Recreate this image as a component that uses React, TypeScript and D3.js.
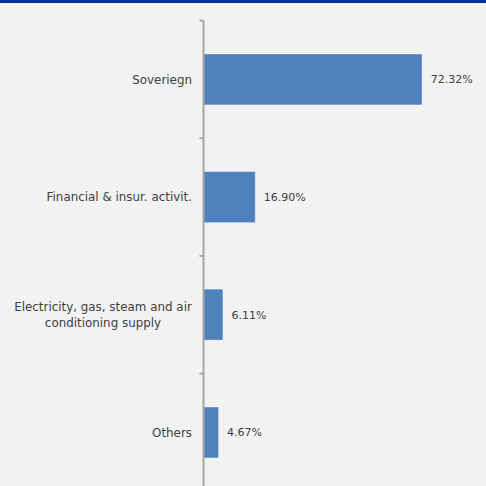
import React from "react";
import * as d3 from "d3";

const categories: string[][] = [
  ["Soveriegn"],
  ["Financial & insur. activit."],
  ["Electricity, gas, steam and air", "conditioning supply"],
  ["Others"],
];
const values: number[] = [72.32, 16.9, 6.11, 4.67];
const valueLabels: string[] = ["72.32%", "16.90%", "6.11%", "4.67%"];

const W = 486;
const H = 486;
const FONT = "'DejaVu Sans', sans-serif";

export default function App() {
  const keys = categories.map((c) => c.join(" "));
  const x = d3.scaleLinear().domain([0, 80]).range([204, 444.8]);
  const y = d3
    .scaleBand<string>()
    .domain(keys)
    .range([20.5, 491.3])
    .paddingInner(0.575)
    .paddingOuter(0.2875);
  const step = y.step();
  const tickYs = d3.range(keys.length + 1).map((i) => 20.5 + i * step);

  return (
    <svg
      width={W}
      height={H}
      style={{ position: "absolute", left: 0, top: 0, display: "block" }}
      fontFamily={FONT}
    >
      <rect x={0} y={0} width={W} height={H} fill="#f2f2f2" />
      <rect x={0} y={0} width={W} height={3} fill="#003399" />
      {values.map((v, i) => (
        <rect
          key={i}
          x={x(0)}
          y={y(keys[i])!}
          width={x(v) - x(0)}
          height={y.bandwidth()}
          fill="#4f81bd"
          stroke="#5b8cc6"
          strokeWidth={0.6}
        />
      ))}
      <line x1={203.5} x2={203.5} y1={20.5} y2={H} stroke="#a6a6a6" strokeWidth={2} />
      {tickYs.map((t, i) => (
        <line key={i} x1={199.5} x2={203} y1={t} y2={t} stroke="#a6a6a6" strokeWidth={2} />
      ))}
      {values.map((v, i) => (
        <text
          key={i}
          x={x(v) + 9}
          y={y(keys[i])! + y.bandwidth() / 2}
          dy="0.35em"
          fontSize={11}
          fill="#404040"
        >
          {valueLabels[i]}
        </text>
      ))}
      {categories.map((lines, i) => {
        const cy = y(keys[i])! + y.bandwidth() / 2;
        const multi = lines.length > 1;
        const lh = 16;
        const lx = multi ? 103 : 192;
        return (
          <text
            key={i}
            x={lx}
            y={cy - ((lines.length - 1) * lh) / 2}
            textAnchor={multi ? "middle" : "end"}
            fontSize={11.9}
            fill="#404040"
          >
            {lines.map((l, j) => (
              <tspan key={j} x={lx} dy={j === 0 ? "0.35em" : lh}>
                {l}
              </tspan>
            ))}
          </text>
        );
      })}
    </svg>
  );
}
